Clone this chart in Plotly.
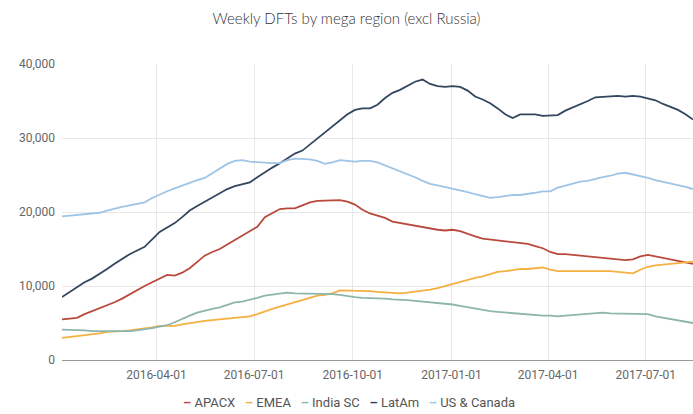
import pandas as pd
import plotly.graph_objects as go

# Weekly series, one value per week starting Monday 2016-01-04
weeks = pd.date_range("2016-01-04", periods=85, freq="7D")

apacx = [5.5, 5.6, 5.7, 6.2, 6.6, 6.9, 7.3, 7.8, 8.3, 8.9, 9.4, 10.0, 10.5, 11.0, 11.5, 11.4,
         11.8, 12.4, 13.2, 14.1, 14.6, 15.0, 15.6, 16.2, 16.7, 17.3, 18.0, 19.3, 19.9, 20.4,
         20.5, 20.5, 20.9, 21.3, 21.5, 21.5, 21.5, 21.6, 21.4, 21.0, 20.3, 19.8, 19.5, 19.2,
         18.7, 18.5, 18.3, 18.1, 17.9, 17.7, 17.6, 17.5, 17.6, 17.4, 17.0, 16.7, 16.4, 16.3,
         16.2, 16.1, 16.0, 15.9, 15.7, 15.4, 15.1, 14.6, 14.3, 14.3, 14.2, 14.1, 13.9, 13.8,
         13.7, 13.6, 13.6, 13.5, 13.6, 14.0, 14.2, 14.0, 13.8, 13.6, 13.4, 13.2, 13.0]

emea = [3.0, 3.1, 3.2, 3.3, 3.5, 3.6, 3.8, 3.8, 3.9, 4.0, 4.1, 4.2, 4.4, 4.6, 4.6, 4.6,
        4.8, 5.0, 5.1, 5.3, 5.4, 5.5, 5.6, 5.8, 5.9, 5.9, 6.2, 6.6, 6.9, 7.2, 7.5, 7.8,
        8.1, 8.4, 8.7, 8.8, 9.0, 9.4, 9.4, 9.4, 9.3, 9.3, 9.2, 9.1, 9.0, 9.0, 9.1, 9.2,
        9.3, 9.5, 9.7, 10.0, 10.2, 10.5, 10.8, 11.1, 11.3, 11.6, 11.9, 12.0, 12.2, 12.3,
        12.3, 12.4, 12.5, 12.2, 12.0, 12.0, 12.0, 12.0, 12.1, 12.1, 12.0, 12.0, 11.9, 11.8,
        11.7, 12.2, 12.6, 12.8, 12.9, 13.0, 13.2, 13.3, 13.3]

india_sc = [4.1, 4.1, 4.0, 4.0, 3.9, 3.9, 3.8, 3.8, 3.8, 3.9, 4.0, 4.1, 4.3, 4.5, 4.7, 5.1,
            5.6, 6.0, 6.4, 6.7, 6.9, 7.1, 7.5, 7.8, 7.9, 8.1, 8.4, 8.7, 8.8, 9.0, 9.1, 9.0,
            9.0, 9.0, 8.9, 8.9, 8.9, 8.8, 8.6, 8.5, 8.4, 8.4, 8.3, 8.3, 8.2, 8.2, 8.1, 8.0,
            7.9, 7.8, 7.8, 7.7, 7.5, 7.3, 7.1, 6.9, 6.8, 6.6, 6.5, 6.4, 6.3, 6.3, 6.2, 6.1,
            6.0, 6.0, 5.9, 6.0, 6.1, 6.2, 6.3, 6.4, 6.4, 6.3, 6.3, 6.3, 6.3, 6.2, 6.2, 5.9,
            5.7, 5.5, 5.3, 5.1, 5.0]

latam = [8.5, 9.2, 9.9, 10.5, 11.0, 11.6, 12.3, 13.0, 13.7, 14.3, 14.8, 15.3, 16.3, 17.3,
         17.9, 18.5, 19.3, 20.2, 20.8, 21.4, 21.9, 22.6, 23.1, 23.5, 23.7, 24.0, 24.7, 25.4,
         26.0, 26.6, 27.3, 27.9, 28.3, 29.1, 30.0, 30.8, 31.6, 32.4, 33.2, 33.8, 34.0, 34.0,
         34.5, 35.4, 36.1, 36.5, 37.0, 37.6, 37.9, 37.3, 37.0, 36.9, 37.0, 36.9, 36.4, 35.6,
         35.2, 34.7, 34.0, 33.2, 32.7, 33.2, 33.2, 33.2, 33.0, 33.0, 33.1, 33.7, 34.1, 34.5,
         35.0, 35.5, 35.6, 35.6, 35.7, 35.6, 35.7, 35.6, 35.4, 35.1, 34.6, 34.2, 33.8, 33.2,
         32.5]

us_canada = [19.4, 19.5, 19.5, 19.6, 19.7, 19.9, 20.2, 20.5, 20.7, 20.9, 21.1, 21.3, 21.9,
             22.4, 22.8, 23.2, 23.6, 24.0, 24.3, 24.6, 25.2, 25.9, 26.5, 26.9, 27.0, 26.8,
             26.7, 26.6, 26.6, 26.6, 27.0, 27.2, 27.2, 27.1, 26.9, 26.5, 26.7, 27.0, 26.9,
             26.8, 26.9, 26.9, 26.7, 26.3, 26.0, 25.6, 25.2, 24.7, 24.2, 23.8, 23.6, 23.4,
             23.2, 23.0, 22.7, 22.4, 22.1, 21.9, 22.0, 22.2, 22.3, 22.3, 22.4, 22.6, 22.8,
             22.8, 23.3, 23.6, 23.9, 24.1, 24.2, 24.5, 24.7, 24.9, 25.2, 25.3, 25.1, 24.9,
             24.6, 24.3, 24.1, 23.8, 23.6, 23.4, 23.1]

series_names = ["APACX", "EMEA", "India SC", "LatAm", "US & Canada"]
series_values = [apacx, emea, india_sc, latam, us_canada]
series_colors = ["#b9493d", "#f5b041", "#8db5ad", "#34465f", "#9ec4e6"]

x_ticks = ["2016-04-01", "2016-07-01", "2016-10-01", "2017-01-01", "2017-04-01", "2017-07-01"]
y_ticks = [0, 10000, 20000, 30000, 40000]

fig = go.Figure()
for name, vals, color in zip(series_names, series_values, series_colors):
    fig.add_trace(go.Scatter(
        x=weeks, y=[v * 1000 for v in vals], name=name, mode="lines",
        line=dict(color=color, width=1.8), showlegend=False,
    ))

# Compact legend row built from coloured dashes
legend_html = "&nbsp;&nbsp;&nbsp;".join(
    f"<span style='color:{c}'><b>–</b></span> {n}" for n, c in zip(series_names, series_colors)
)
fig.add_annotation(
    text=legend_html, xref="paper", yref="paper", x=0.455, y=-0.145,
    xanchor="center", yanchor="middle", showarrow=False,
    font=dict(family="Roboto", size=13, color="#555555"),
)

fig.update_layout(
    width=693, height=414,
    margin=dict(l=62, r=0, t=64, b=54),
    paper_bgcolor="white", plot_bgcolor="white",
    title=dict(text="Weekly DFTs by mega region (excl Russia)", x=0.5, xanchor="center",
               y=0.955, yanchor="middle",
               font=dict(family="Lato", size=15, color="#333333", weight=300)),
    xaxis=dict(
        range=[weeks[0], weeks[-1]], tickvals=x_ticks, ticktext=x_ticks,
        showgrid=True, gridcolor="#e8e8e8", gridwidth=1,
        showline=True, linecolor="#9a9a9a", linewidth=1,
        ticks="", tickfont=dict(family="Roboto", size=12, color="#666666"),
        ticklabelstandoff=4, zeroline=False,
    ),
    yaxis=dict(
        range=[0, 40000], tickvals=y_ticks, tickformat=",d",
        showgrid=True, gridcolor="#e8e8e8", gridwidth=1,
        zeroline=False, showline=False, ticks="",
        tickfont=dict(family="Roboto", size=12, color="#666666"), ticklabelstandoff=6,
    ),
)

fig.write_html("out.html")
